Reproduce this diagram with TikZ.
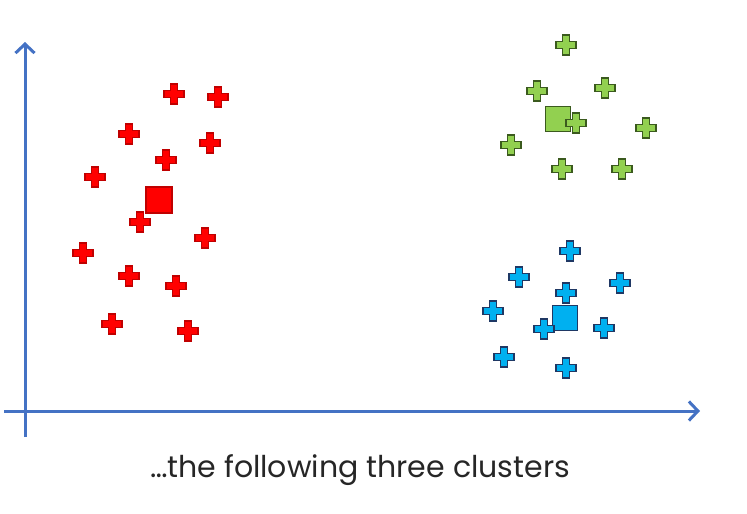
\documentclass[tikz,border=0pt]{standalone}
\usepackage{fontspec}
\setmainfont{Poppins}
\usepackage{xcolor}
\usepackage{tikz}
\usetikzlibrary{arrows.meta}
\usetikzlibrary{positioning}
\definecolor{axisblue}{HTML}{4472C4}
\definecolor{redfill}{HTML}{FF0000}
\definecolor{redline}{HTML}{C00000}
\definecolor{greenfill}{HTML}{92D050}
\definecolor{greenline}{HTML}{3B5A1E}
\definecolor{bluefill}{HTML}{00B0F0}
\definecolor{blueline}{HTML}{1F3864}
\tikzstyle{axis}=[draw=axisblue, line width=3pt, -{Straight Barb[length=9pt, width=19pt]}]
\tikzstyle{centroid}=[shape=rectangle, line width=1.5pt, minimum size=25pt, inner sep=0pt]
\tikzstyle{caption}=[shape=rectangle, inner sep=0pt, text=black!85]
\tikzset{
  plusmark/.pic={
    \path[pic actions, line width=1.5pt] (-3.5,-10) -- (3.5,-10) -- (3.5,-3.5) -- (10,-3.5) -- (10,3.5) -- (3.5,3.5) -- (3.5,10) -- (-3.5,10) -- (-3.5,3.5) -- (-10,3.5) -- (-10,-3.5) -- (-3.5,-3.5) -- cycle;
  }
}

\begin{document}
\begin{tikzpicture}[x=1pt, y=-1pt]
\useasboundingbox (0,0) rectangle (747,514);

% axes
\coordinate (xstart) at (4,411);
\coordinate (xend) at (700,411);
\coordinate (ystart) at (25,437);
\coordinate (yend) at (25,42);
\draw[axis] (xstart) -- (xend);
\draw[axis] (ystart) -- (yend);

% red cluster
\foreach \px/\py in {174/94, 218/97, 129/134, 210/143, 166/160, 95/177, 140/222, 205/238, 83/253, 129/276, 176/286, 112/324, 188/331}
  \pic[fill=redfill, draw=redline] at (\px,\py) {plusmark};
\node [centroid, fill=redfill, draw=redline, minimum size=26pt] (redcentre) at (159,200) {};

% green cluster
\node [centroid, fill=greenfill, draw=greenline] (greencentre) at (558,119) {};
\foreach \px/\py in {566/45, 537/91, 605/88, 576/123, 646/128, 511/145, 562/169, 622/169}
  \pic[fill=greenfill, draw=greenline] at (\px,\py) {plusmark};

% blue cluster
\node [centroid, fill=bluefill, draw=blueline] (bluecentre) at (565,318) {};
\foreach \px/\py in {570/251, 519/277, 620/283, 566/293, 493/311, 544/329, 604/328, 504/357, 566/368}
  \pic[fill=bluefill, draw=blueline] at (\px,\py) {plusmark};

\node [caption, font=\fontsize{30}{34}\selectfont] (caption) at (360,470) {…the following three clusters};
\end{tikzpicture}
\end{document}
